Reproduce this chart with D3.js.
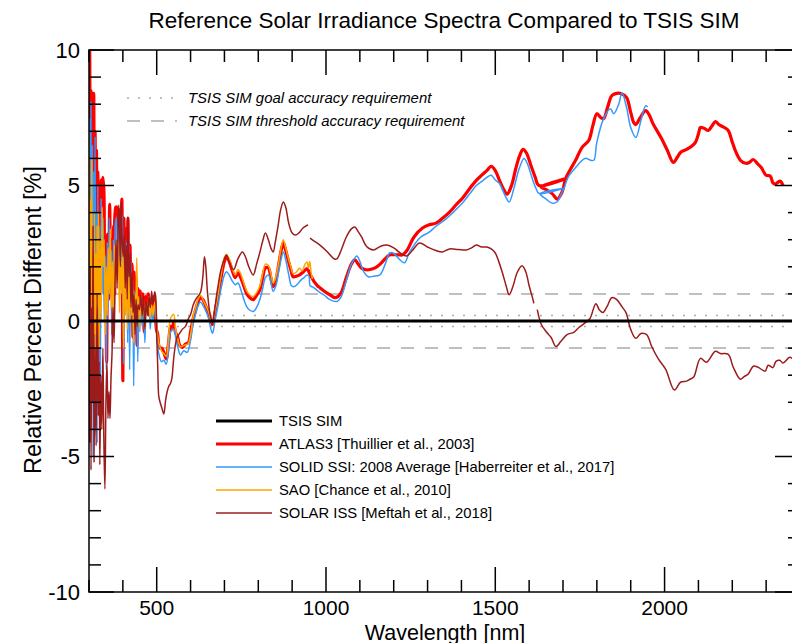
<!DOCTYPE html>
<html>
<head>
<meta charset="utf-8">
<script src="https://cdn.jsdelivr.net/npm/d3@7"></script>
<style>
  html, body { margin: 0; padding: 0; background: #fff; }
  svg { display: block; font-family: "Liberation Sans", Arial, Helvetica, sans-serif; }
</style>
</head>
<body>
<svg id="chart" width="792" height="643"></svg>
<script>
// Relative percent difference of reference spectra against TSIS SIM, [wavelength nm, %]
const tsisSim = [[300, 0], [2400, 0]];

const atlas3 = [
  [300,2.0],[302,10.0],[304,3.0],[306,8.5],[308,-1.0],[310,8.4],[312,5.0],[314,8.4],[316,0.5],[318,7.0],
  [320,-2.0],[322,6.3],[324,1.0],[326,5.5],[328,-3.0],[330,4.0],[333,0.5],[336,5.2],[338,2.0],[341,5.3],
  [344,4.8],[346,1.0],[349,2.6],[352,-1.5],[355,3.2],[358,0.8],[361,4.3],[364,1.5],[367,3.0],[370,-0.5],
  [373,3.5],[376,1.0],[379,4.2],[382,4.2],[385,3.9],[388,2.0],[391,4.1],[394,2.5],[397,4.5],[400,-2.2],
  [403,3.8],[406,1.0],[409,3.4],[412,0.6],[415,3.8],[418,1.2],[421,2.8],[424,1.0],[427,2.1],[430,-0.6],
  [433,1.8],[436,0.4],[439,1.6],[442,-0.9],[445,1.2],[448,0.0],[451,1.1],[455,0.4],[459,1.0],[463,-0.4],
  [467,0.9],[471,0.7],[475,1.0],[479,0.2],[483,0.8],[487,0.3],[491,0.9],[495,0.5],[499,-0.3],[503,-0.5],
  [506,-0.9],[510,-1.0],[515,-1.0],[521,-1.16],[528,-1.4],[535,-0.8],[541,-0.2],[545,-0.3],[550,-0.06],
  [555,-0.4],[562,-0.6],[568,-0.9],[576,-0.97],[585,-0.85],[594,-0.79],[600,-0.4],[608,0.1],[615,0.42],
  [622,0.7],[629,0.86],[636,0.8],[645,0.55],[653,0.31],[660,0.0],[665,-0.13],[672,0.3],[679,0.79],
  [690,1.6],[700,2.2],[706,2.37],[714,2.2],[722,1.9],[732,1.6],[740,1.78],[748,1.6],[757,1.3],[766,1.0],
  [776,0.85],[785,0.79],[795,0.95],[805,1.16],[813,1.6],[821,1.96],[830,1.96],[837,1.6],[844,1.27],
  [850,1.4],[858,1.9],[866,2.5],[874,2.88],[881,2.6],[888,2.26],[896,1.9],[903,1.63],[912,1.65],[922,1.7],
  [932,1.8],[944,1.93],[950,1.8],[956,1.65],[965,1.45],[975,1.3],[982,1.23],[995,1.1],[1010,0.98],
  [1026,0.86],[1035,0.9],[1045,1.05],[1060,1.6],[1075,2.1],[1085,2.26],[1095,2.1],[1105,1.95],[1118,1.89],
  [1130,1.9],[1145,1.96],[1160,2.1],[1175,2.3],[1188,2.44],[1200,2.45],[1215,2.44],[1226,2.44],[1240,2.62],
  [1260,3.1],[1285,3.43],[1305,3.55],[1325,3.61],[1345,3.8],[1365,4.02],[1385,4.3],[1403,4.53],[1425,4.9],
  [1444,5.19],[1460,5.38],[1475,5.55],[1488,5.71],[1500,5.55],[1512,5.2],[1525,4.85],[1535,4.68],
  [1548,5.0],[1560,5.6],[1572,6.1],[1582,6.33],[1592,6.2],[1605,5.75],[1618,5.3],[1629,5.0],
  [1710,5.26],[1635,4.95],[1650,4.85],[1668,4.7],[1683,4.5],[1697,4.75],[1708,5.26],[1722,5.6],
  [1738,5.95],[1756,6.4],[1776,6.66],[1788,7.2],[1800,7.65],[1812,7.5],[1820,7.47],[1832,7.9],[1844,8.31],
  [1858,8.4],[1874,8.38],[1888,8.24],[1900,7.7],[1909,7.32],[1915,7.25],[1928,7.5],[1944,7.76],[1955,7.6],
  [1965,7.3],[1974,7.1],[1991,6.73],[2008,6.3],[2026,5.85],[2038,6.05],[2047,6.22],[2065,6.33],[2080,6.45],
  [2091,6.59],[2100,6.9],[2106,7.14],[2118,7.1],[2129,7.03],[2140,7.2],[2150,7.36],[2160,7.25],[2175,7.15],
  [2188,7.03],[2200,6.6],[2209,6.29],[2224,5.93],[2240,5.82],[2250,5.85],[2262,5.96],[2275,5.8],[2285,5.67],
  [2300,5.38],[2312,5.35],[2320,5.1],[2326,5.05],[2341,5.16],[2350,5.0]
];

const solidSsi = [
  [300,-3.0],[302,7.5],[304,1.0],[306,8.1],[308,-2.0],[310,6.5],[312,-5.0],[314,5.5],[316,1.5],[318,6.8],
  [320,-1.0],[322,4.0],[324,-4.5],[326,5.0],[328,0.0],[330,3.5],[333,-3.5],[336,4.5],[339,1.0],[342,3.8],
  [345,0.0],[348,2.4],[351,-1.8],[354,2.9],[357,0.5],[360,3.8],[363,1.2],[366,2.6],[369,-1.0],[372,3.0],
  [375,0.3],[378,3.6],[381,3.8],[384,2.5],[387,3.5],[390,1.0],[393,3.3],[396,2.2],[399,3.9],[402,-1.6],
  [405,3.0],[408,0.5],[411,2.9],[414,-0.8],[417,3.1],[420,-1.8],[423,2.2],[426,0.6],[429,1.5],[432,-2.4],
  [435,1.1],[438,-0.2],[441,1.3],[444,-1.5],[447,0.8],[450,-0.4],[453,0.9],[457,-0.2],[461,0.7],[465,-0.8],
  [469,0.5],[473,0.3],[477,0.7],[481,-0.3],[485,0.5],[489,0.0],[493,0.6],[497,0.1],[500,-0.4],[506,-1.2],
  [514,-1.5],[521,-1.45],[528,-1.6],[535,-1.0],[541,-0.4],[550,-0.3],[556,-0.6],[563,-1.0],[570,-1.25],
  [580,-1.1],[590,-1.16],[600,-0.7],[608,-0.1],[615,0.25],[622,0.55],[629,0.7],[640,0.5],[653,0.1],
  [660,-0.3],[665,-0.45],[672,0.0],[680,0.5],[690,1.2],[700,1.7],[706,1.82],[714,1.7],[722,1.5],[732,1.34],
  [740,1.4],[750,1.1],[760,0.7],[770,0.45],[785,0.35],[795,0.5],[805,0.8],[813,1.2],[821,1.6],[830,1.7],
  [837,1.45],[844,1.1],[852,1.3],[860,1.8],[868,2.3],[874,2.55],[882,2.2],[890,1.7],[898,1.3],[906,1.27],
  [915,1.35],[925,1.5],[935,1.6],[944,1.7],[950,1.65],[953,1.3],[962,1.25],[972,1.15],[982,1.05],
  [995,0.95],[1010,0.8],[1032,0.72],[1045,0.9],[1060,1.5],[1075,2.1],[1091,2.4],[1100,2.2],[1112,1.8],
  [1125,1.63],[1140,1.65],[1159,1.7],[1175,2.1],[1188,2.51],[1200,2.5],[1215,2.3],[1232,2.15],[1245,2.5],
  [1260,2.8],[1280,3.1],[1305,3.28],[1325,3.5],[1350,3.72],[1375,4.0],[1403,4.35],[1425,4.7],[1444,5.0],
  [1460,5.15],[1475,5.3],[1488,5.38],[1500,5.2],[1512,5.08],[1530,4.6],[1541,4.39],[1555,4.9],[1570,5.6],
  [1585,6.0],[1595,5.8],[1608,5.3],[1620,4.9],[1629,4.71],[1703,4.9],[1632,4.7],[1650,4.5],[1668,4.35],
  [1683,4.4],[1695,4.7],[1703,4.9],[1715,5.3],[1738,5.67],[1765,6.0],[1782,5.93],[1791,5.93],[1800,6.6],
  [1820,7.47],[1840,7.83],[1850,7.65],[1865,8.02],[1874,8.42],[1888,7.87],[1900,7.14],[1915,6.77],
  [1930,7.39],[1944,7.94],[1950,7.9]
];

const sao = [
  [300,7.0],[302,-1.9],[304,4.5],[306,-0.5],[308,6.0],[310,0.0],[312,3.0],[314,-1.5],[316,4.0],[318,-0.5],
  [320,2.5],[322,-2.5],[324,3.5],[326,0.5],[328,4.0],[330,-1.0],[333,3.0],[336,0.0],[339,4.2],[342,2.0],
  [345,3.0],[348,-0.5],[351,2.0],[354,0.2],[357,2.7],[360,1.0],[363,3.4],[366,0.5],[369,2.2],[372,-0.3],
  [375,2.8],[378,1.2],[381,3.0],[384,1.6],[387,2.9],[390,0.3],[393,2.4],[396,1.0],[399,3.0],[402,-1.0],
  [405,2.6],[408,0.2],[411,2.0],[414,-0.3],[417,2.4],[420,0.0],[423,1.6],[426,0.2],[429,1.2],[432,-0.8],
  [435,1.0],[438,0.6],[441,2.33],[444,0.2],[447,0.9],[450,-0.3],[453,1.0],[457,0.2],[461,0.8],[465,-0.3],
  [469,0.6],[473,0.4],[477,0.9],[481,0.1],[485,0.6],[489,0.2],[493,0.7],[497,0.3],[500,-0.2],[506,-0.8],
  [514,-1.1],[521,-1.2],[528,-1.3],[535,-0.6],[541,0.1],[550,0.24],[556,-0.3],[563,-0.7],[570,-0.95],
  [580,-0.9],[592,-0.85],[600,-0.5],[608,0.2],[615,0.5],[622,0.8],[629,0.95],[640,0.7],[653,0.35],
  [660,0.05],[665,-0.05],[672,0.35],[680,0.9],[690,1.7],[700,2.35],[706,2.45],[714,2.3],[722,2.0],
  [732,1.7],[740,1.9],[748,1.75],[757,1.4],[766,1.1],[776,0.95],[785,0.9],[795,1.05],[805,1.3],[813,1.75],
  [821,2.1],[830,2.05],[837,1.75],[844,1.4],[850,1.55],[858,2.0],[866,2.6],[874,3.0],[881,2.7],[888,2.35],
  [896,2.0],[903,1.75],[912,1.8],[922,1.95],[930,1.85],[938,2.1],[944,2.18],[948,1.95],[952,2.2],
  [956,1.8],[960,1.55]
];

const solarIss = [
  [300,1.5],[302,-4.5],[304,2.0],[306,-5.5],[308,0.5],[310,-3.0],[312,3.5],[315,-5.2],[318,-1.0],[321,-4.6],
  [324,1.0],[327,-3.5],[330,-1.5],[332,-5.3],[335,-2.0],[338,-4.0],[341,-1.0],[344,-4.5],[347,-6.2],
  [350,-3.0],[353,-1.5],[356,-3.6],[359,-2.6],[362,-3.6],[365,-2.1],[368,-1.2],[371,0.5],[374,-0.8],
  [377,1.5],[380,3.0],[383,1.2],[386,3.5],[388,4.28],[390,3.61],[393,2.0],[395,4.39],[398,3.0],[401,2.37],
  [404,3.2],[407,1.2],[410,2.8],[413,0.8],[415,3.83],[418,1.63],[421,2.5],[424,0.5],[427,1.8],[430,0.31],
  [433,1.0],[436,-0.5],[439,0.8],[442,-0.2],[445,0.6],[449,0.42],[453,1.0],[457,0.2],[461,0.9],[465,-0.3],
  [469,0.7],[473,0.2],[477,0.9],[481,0.5],[485,1.1],[489,0.6],[494,1.08],[497,0.9],[500,-0.57],[503,-1.67],
  [506,-2.77],[510,-3.0],[515,-3.2],[521,-3.43],[526,-2.95],[531,-2.6],[536,-2.4],[541,-2.3],[545,-2.1],
  [550,-1.4],[555,-0.9],[560,-0.6],[568,-0.45],[576,-0.3],[585,-0.2],[594,0.1],[600,0.24],[608,0.6],
  [615,0.79],[629,1.05],[636,1.6],[641,2.37],[645,2.0],[650,1.05],[657,0.3],[665,-0.06],[672,0.5],
  [680,1.2],[690,1.9],[700,2.3],[706,2.44],[714,2.2],[727,1.89],[740,2.3],[753,2.55],[762,2.37],[772,2.0],
  [785,1.7],[795,2.1],[805,2.55],[813,2.95],[821,3.25],[830,2.99],[837,2.7],[844,2.55],[850,2.9],
  [858,3.47],[866,4.1],[874,4.39],[881,4.2],[890,3.6],[900,3.25],[910,3.17],[920,3.25],[932,3.43],
  [940,3.5],[947,3.54],[950,null],
  [953,3.06],[965,2.95],[982,2.8],[1000,2.6],[1012,2.44],[1025,2.29],[1032,2.29],[1045,2.62],[1060,3.1],
  [1075,3.4],[1085,3.47],[1095,3.3],[1105,3.1],[1120,2.75],[1140,2.62],[1160,2.75],[1179,2.8],[1200,2.7],
  [1220,2.5],[1238,2.4],[1255,2.6],[1276,2.88],[1300,2.73],[1325,2.6],[1344,2.55],[1365,2.66],[1390,2.64],
  [1415,2.62],[1430,2.7],[1444,2.8],[1460,2.73],[1475,2.73],[1488,2.66],[1500,2.51],[1510,2.2],[1521,1.78],
  [1532,1.3],[1541,0.97],[1552,1.27],[1565,1.8],[1579,2.04],[1590,1.82],[1600,1.3],[1609,0.9],[1614,0.65],
  [1619,null],
  [1624,0.42],[1636,-0.13],[1650,-0.39],[1665,-0.61],[1679,-0.94],[1694,-0.75],[1712,-0.5],[1732,-0.42],
  [1747,-0.24],[1767,-0.05],[1780,0.1],[1797,0.64],[1808,0.4],[1818,0.31],[1830,0.53],[1844,0.86],
  [1858,0.8],[1874,0.53],[1886,0.31],[1900,-0.31],[1915,-0.64],[1930,-0.46],[1947,-0.5],[1962,-0.94],
  [1982,-1.41],[2003,-1.78],[2029,-2.55],[2047,-2.26],[2065,-2.22],[2075,-2.15],[2086,-2.07],[2106,-1.38],
  [2124,-1.52],[2150,-1.12],[2165,-1.2],[2188,-1.23],[2203,-1.71],[2224,-2.15],[2235,-2.05],[2247,-1.96],
  [2262,-1.67],[2275,-1.7],[2297,-1.85],[2306,-1.63],[2320,-1.72],[2329,-1.49],[2340,-1.45],[2350,-1.55],
  [2370,-1.34],[2385,-1.45],[2400,-1.4]
];

// Accuracy requirement bands (%)
const goalAccuracy = 0.2;
const thresholdAccuracy = 1.0;

const xTickMajor = [500, 1000, 1500, 2000];
const yTickMajor = [10, 5, 0, -5, -10];

const series = [
  { name: "ATLAS3 [Thuillier et al., 2003]", data: atlas3, color: "#ff0000", width: 3.2 },
  { name: "SOLID SSI: 2008 Average [Haberreiter et al., 2017]", data: solidSsi, color: "#3399ff", width: 1.5 },
  { name: "SAO [Chance et al., 2010]", data: sao, color: "#ffa500", width: 1.5 },
  { name: "SOLAR ISS [Meftah et al., 2018]", data: solarIss, color: "#9c1c1c", width: 1.5 }
];
const legendOrder = [
  { name: "TSIS SIM", color: "#000", width: 3.2 },
  ...series
];

const svg = d3.select("#chart");
const m = { left: 89, right: 800, top: 50, bottom: 592 };

const x = d3.scaleLinear().domain([300, 2400]).range([m.left, m.right]);
const y = d3.scaleLinear().domain([-10, 10]).range([m.bottom, m.top]);

svg.append("defs").append("clipPath").attr("id", "plot")
  .append("rect").attr("x", m.left).attr("y", m.top)
  .attr("width", m.right - m.left).attr("height", m.bottom - m.top);

const plot = svg.append("g").attr("clip-path", "url(#plot)");

// requirement bands
[goalAccuracy, -goalAccuracy].forEach(v => {
  plot.append("line").attr("x1", m.left).attr("x2", m.right).attr("y1", y(v)).attr("y2", y(v))
    .attr("stroke", "#aaa").attr("stroke-width", 1.5).attr("stroke-dasharray", "2,9");
});
[thresholdAccuracy, -thresholdAccuracy].forEach(v => {
  plot.append("line").attr("x1", m.left).attr("x2", m.right).attr("y1", y(v)).attr("y2", y(v))
    .attr("stroke", "#aaa").attr("stroke-width", 1.5).attr("stroke-dasharray", "13,11");
});

const line = d3.line()
  .defined(d => d[1] !== null)
  .curve(d3.curveCatmullRom.alpha(0.5))
  .x(d => x(d[0])).y(d => y(d[1]));

series.forEach(s => {
  plot.append("path").datum(s.data).attr("d", line)
    .attr("fill", "none").attr("stroke", s.color).attr("stroke-width", s.width)
    .attr("stroke-linejoin", "round");
});

plot.append("path").datum(tsisSim).attr("d", line)
  .attr("fill", "none").attr("stroke", "#000").attr("stroke-width", 3.2);

// frame and inward ticks on all four sides
const axes = svg.append("g").attr("stroke", "#000").attr("stroke-width", 1.5).attr("fill", "none");
axes.append("rect").attr("x", m.left).attr("y", m.top)
  .attr("width", m.right - m.left).attr("height", m.bottom - m.top);

d3.range(300, 2401, 100).forEach(v => {
  const len = xTickMajor.includes(v) ? 25 : 12;
  axes.append("line").attr("x1", x(v)).attr("x2", x(v)).attr("y1", m.bottom).attr("y2", m.bottom - len);
  axes.append("line").attr("x1", x(v)).attr("x2", x(v)).attr("y1", m.top).attr("y2", m.top + len);
});
d3.range(-10, 11, 1).forEach(v => {
  const len = yTickMajor.includes(v) ? 25 : 12;
  axes.append("line").attr("x1", m.left).attr("x2", m.left + len).attr("y1", y(v)).attr("y2", y(v));
  axes.append("line").attr("x1", m.right).attr("x2", m.right - len).attr("y1", y(v)).attr("y2", y(v));
});

const labels = svg.append("g").attr("fill", "#000");
xTickMajor.forEach(v => {
  labels.append("text").attr("x", x(v)).attr("y", 615).attr("text-anchor", "middle")
    .attr("font-size", 21).text(v);
});
yTickMajor.forEach(v => {
  labels.append("text").attr("x", 80).attr("y", y(v)).attr("dy", "0.36em").attr("text-anchor", "end")
    .attr("font-size", 22).text(v);
});

labels.append("text").attr("x", 445).attr("y", 639.5).attr("text-anchor", "middle")
  .attr("font-size", 21.5).text("Wavelength [nm]");
labels.append("text").attr("transform", "translate(41,320) rotate(-90)").attr("text-anchor", "middle")
  .attr("font-size", 23.5).text("Relative Percent Different [%]");
labels.append("text").attr("x", 444).attr("y", 28).attr("text-anchor", "middle")
  .attr("font-size", 22.5).text("Reference Solar Irradiance Spectra Compared to TSIS SIM");

// requirement legend
const reqLegend = svg.append("g");
[["TSIS SIM goal accuracy requirement", "2,9", 98], ["TSIS SIM threshold accuracy requirement", "13,11", 121]]
  .forEach(([label, dash, yy]) => {
    reqLegend.append("line").attr("x1", 127).attr("x2", 177).attr("y1", yy).attr("y2", yy)
      .attr("stroke", "#aaa").attr("stroke-width", 1.5).attr("stroke-dasharray", dash);
    reqLegend.append("text").attr("x", 188).attr("y", yy).attr("dy", "0.36em")
      .attr("font-size", 14.9).attr("font-style", "italic").text(label);
  });

// series legend
const legend = svg.append("g");
legendOrder.forEach((s, i) => {
  const yy = 421 + i * 23;
  legend.append("line").attr("x1", 216).attr("x2", 272).attr("y1", yy).attr("y2", yy)
    .attr("stroke", s.color).attr("stroke-width", s.width);
  legend.append("text").attr("x", 279).attr("y", yy).attr("dy", "0.36em")
    .attr("font-size", 14.8).text(s.name);
});
</script>
</body>
</html>
